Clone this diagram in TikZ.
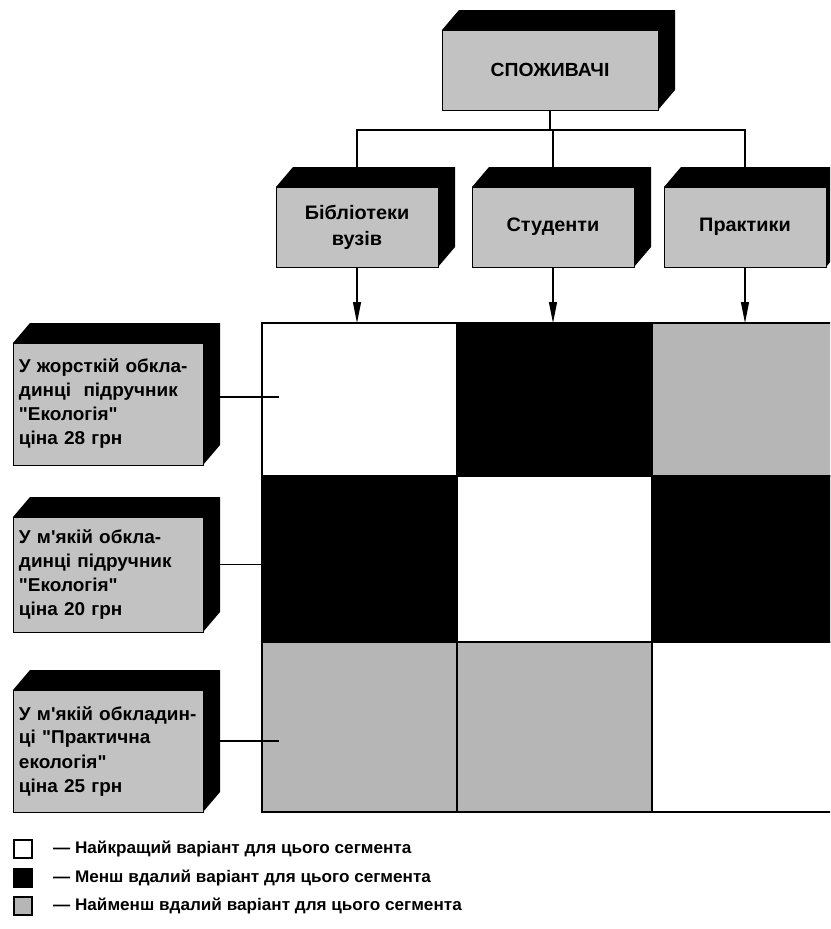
\documentclass[tikz,border=0pt]{standalone}
\usepackage{fontspec}
\newfontfamily\figfont{Liberation Sans Bold}[FakeStretch=1.02]
\usetikzlibrary{arrows.meta}
\definecolor{boxgray}{HTML}{C2C2C2}
\definecolor{cellgray}{HTML}{B6B6B6}
\newcommand\solidback[1]{%
  \fill[black] (#1.north west) -- ++(17pt,20pt)
    -- ([shift={(17pt,20pt)}]#1.north east)
    -- ([shift={(17pt,20pt)}]#1.south east)
    -- (#1.south east) -- (#1.north east) -- cycle;}
\tikzset{
  frontface/.style={draw=black, line width=0.9pt, fill=boxgray, inner sep=0pt, outer sep=0pt},
  topbox/.style={frontface, minimum width=216pt, minimum height=80pt, align=center,
    font=\figfont\fontsize{19}{23}\selectfont},
  segbox/.style={frontface, minimum width=162pt, minimum height=80pt, align=center,
    font=\figfont\fontsize{19.5}{26}\selectfont},
  prodbox/.style={frontface, minimum width=190pt, text width=178pt, align=left,
    inner xsep=6pt, font=\figfont\fontsize{18.6}{24}\selectfont},
  cell/.style={draw=black, line width=1.2pt, minimum width=195pt, inner sep=0pt, outer sep=0pt},
  conn/.style={draw=black, line width=1.1pt},
  arr/.style={conn, -{Triangle[length=21pt,width=8pt]}},
  legsq/.style={draw=black, line width=1.2pt, minimum size=18pt, inner sep=0pt},
  legtext/.style={anchor=west, inner sep=0pt, font=\figfont\fontsize{16.8}{20}\selectfont}
}
\begin{document}
\begin{tikzpicture}[x=1pt,y=-1pt]
\path[use as bounding box, clip] (0,0) rectangle (830,929);
\fill[white] (0,0) rectangle (830,929);

% top box
\node[topbox] (top) at (550,70) {СПОЖИВАЧІ};
\solidback{top}

% segment boxes
\node[segbox] (b1) at (357,227) {Бібліотеки\\вузів};
\node[segbox] (b2) at (553,227) {Студенти};
\node[segbox] (b3) at (745,227) {Практики};
\solidback{b1}\solidback{b2}\solidback{b3}

% bus
\coordinate (bus) at (0,130);
\draw[conn] (top.south) -- (top.south |- bus);
\draw[conn] ([yshift=20pt]b1.north) -- (b1.north |- bus) -- (b3.north |- bus) -- ([yshift=20pt]b3.north);
\draw[conn] ([yshift=20pt]b2.north) -- (b2.north |- bus);

% grid
\node[cell, fill=white,     minimum height=153pt] (c11) at (359.5,399.5) {};
\node[cell, fill=black,     minimum height=153pt] (c12) at (554.5,399.5) {};
\node[cell, fill=cellgray,  minimum height=153pt] (c13) at (749.5,399.5) {};
\node[cell, fill=black,     minimum height=166pt] (c21) at (359.5,559) {};
\node[cell, fill=white,     minimum height=166pt] (c22) at (554.5,559) {};
\node[cell, fill=black,     minimum height=166pt] (c23) at (749.5,559) {};
\node[cell, fill=cellgray,  minimum height=170pt] (c31) at (359.5,727) {};
\node[cell, fill=cellgray,  minimum height=170pt] (c32) at (554.5,727) {};
\node[cell, fill=white,     minimum height=170pt] (c33) at (749.5,727) {};

% arrows from segments
\draw[arr] (b1.south) -- (b1.south |- c11.north);
\draw[arr] (b2.south) -- (b2.south |- c12.north);
\draw[arr] (b3.south) -- (b3.south |- c13.north);

% product boxes
\node[prodbox, minimum height=122pt] (l1) at (108,404)
  {\mbox{У жорсткій обкла-}\\\mbox{динці \ підручник}\\"Екологія"\\ціна 28 грн};
\node[prodbox, minimum height=115pt] (l2) at (108,574.5)
  {\mbox{У м'якій обкла-}\\\mbox{динці підручник}\\"Екологія"\\ціна 20 грн};
\node[prodbox, minimum height=122pt] (l3) at (108,751)
  {\mbox{У м'якій обкладин-}\\\mbox{ці "Практична}\\екологія"\\ціна 25 грн};
\solidback{l1}\solidback{l2}\solidback{l3}

\draw[conn] ([shift={(17pt,7pt)}]l1.east) -- ([shift={(17pt,7pt)}]l1.east -| c11.west);
\draw[conn] ([shift={(17pt,10pt)}]l2.east) -- ([shift={(17pt,10pt)}]l2.east -| c21.west);
\draw[conn] ([shift={(17pt,10pt)}]l3.east) -- ([shift={(17pt,10pt)}]l3.east -| c31.west);

% legend
\node[legsq, fill=white]    (q1) at (23,849) {};
\node[legsq, fill=black]    (q2) at (23,878) {};
\node[legsq, fill=cellgray] (q3) at (23,906) {};
\node[legtext] (t1) at (53,849) {— Найкращий варіант для цього сегмента};
\node[legtext] (t2) at (53,878) {— Менш вдалий варіант для цього сегмента};
\node[legtext] (t3) at (53,906) {— Найменш вдалий варіант для цього сегмента};
\end{tikzpicture}
\end{document}
